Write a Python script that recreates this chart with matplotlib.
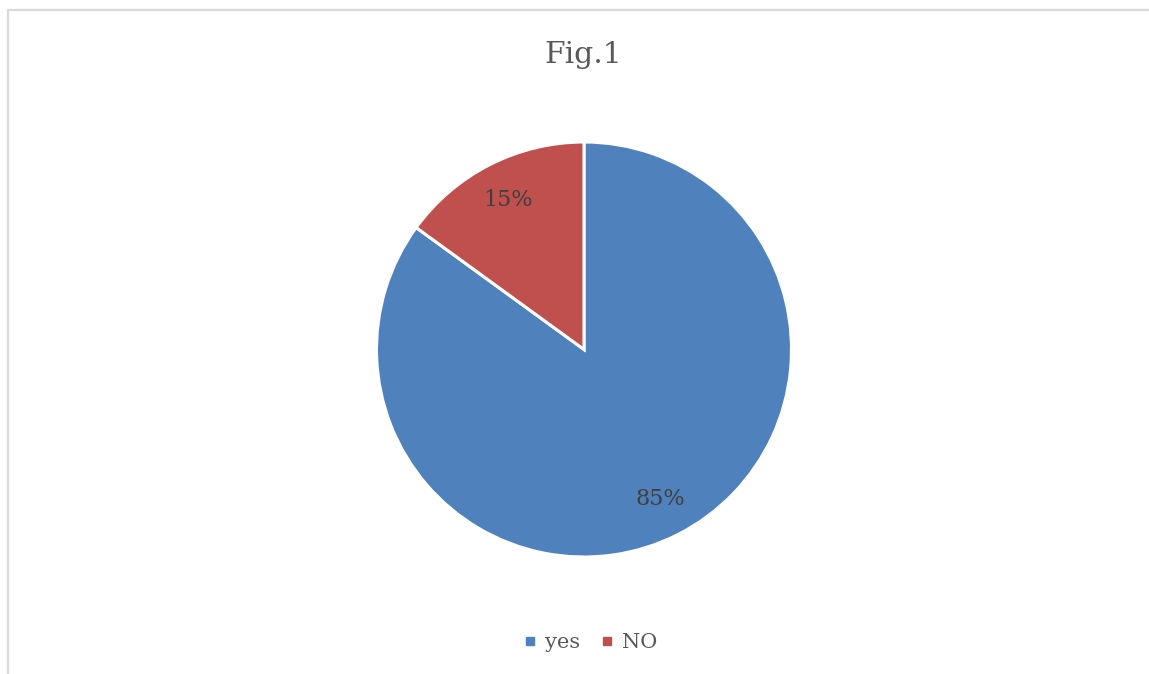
import matplotlib.pyplot as plt
from matplotlib.patches import Rectangle
from matplotlib.lines import Line2D

categorias = ['yes', 'NO']
valores = [85, 15]
colores = ['#4F81BD', '#C0504D']

plt.rcParams['font.family'] = ['DejaVu Serif']

W, H = 1149, 674
fig = plt.figure(figsize=(W / 100, H / 100), dpi=100)

# marco gris del grafico
fig.patches.append(Rectangle((8 / W, -0.1), 1.2, 1 - 9.5 / H + 0.1, transform=fig.transFigure,
                             fill=False, edgecolor='#D9D9D9', linewidth=1.6))

# eje de la torta, centro (584, 349.5) y radio 207.5 px
cx, cy, r = 584, 349.5, 207.5
lado = 2.5 * r
ax = fig.add_axes([(cx - lado / 2) / W, (H - cy - lado / 2) / H, lado / W, lado / H])
wedges, textos, autotextos = ax.pie(
    valores, colors=colores, startangle=90, counterclock=False,
    autopct='%1.0f%%', pctdistance=0.81,
    wedgeprops=dict(edgecolor='white', linewidth=2.2),
    textprops=dict(color='#404040', fontsize=16))
ax.set_xlim(-1.25, 1.25)
ax.set_ylim(-1.25, 1.25)
ax.set_aspect('equal')
ax.axis('off')

fig.text(583 / W, 1 - 55 / H, 'Fig.1', ha='center', va='center', fontsize=21.5, color='#595959')

handles = [Line2D([], [], marker='s', linestyle='none', markersize=6, color=c) for c in colores]
fig.legend(handles, categorias, loc='center', bbox_to_anchor=(590 / W, 1 - 643 / H), ncol=2,
           frameon=False, fontsize=15, handlelength=0.7, handletextpad=0.4, columnspacing=0.9,
           labelcolor='#595959')

plt.savefig('out.png', dpi=100)
